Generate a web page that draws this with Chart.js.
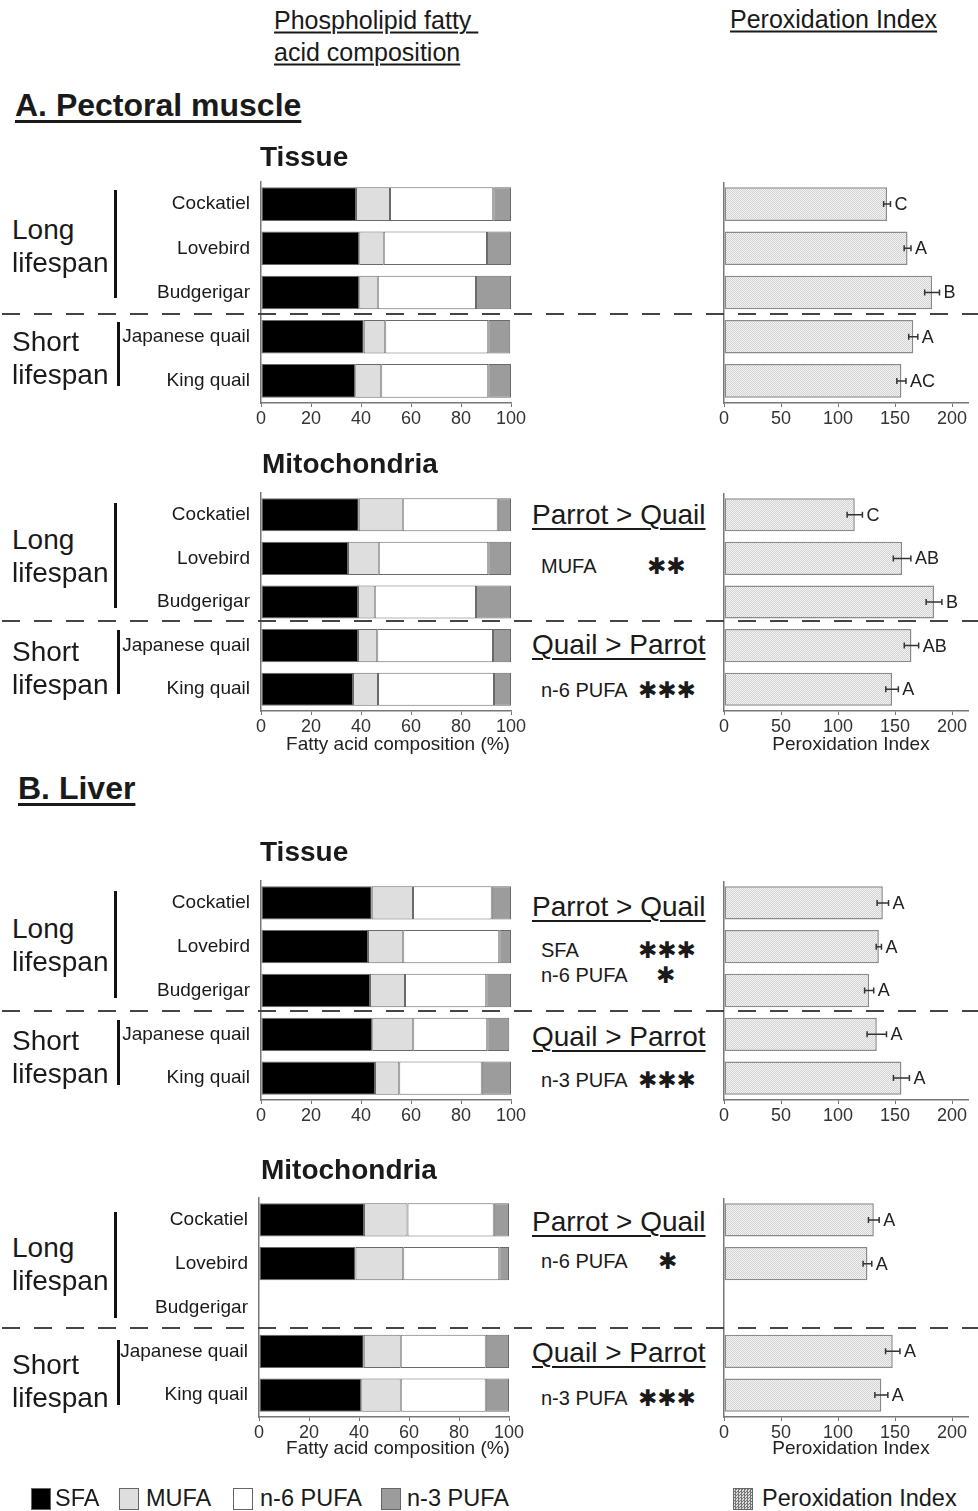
<!DOCTYPE html>
<html>
<head>
<meta charset="utf-8">
<script src="https://cdn.jsdelivr.net/npm/chart.js@4"></script>
<style>
  body { margin: 0; background: #fff; }
  #page { position: relative; width: 978px; height: 1511px; overflow: hidden;
          font-family: "Liberation Sans", Arial, sans-serif; color: #1a1a1a; }
  #page canvas { position: absolute; }
  .t { position: absolute; white-space: pre; line-height: 1; transform: translateY(-50%); }
  .c { transform: translate(-50%, -50%); }
  .hd { font-size: 25px; text-decoration: underline; text-decoration-thickness: 2px; text-underline-offset: 3px; }
  .sec { font-size: 32px; font-weight: bold; text-decoration: underline; text-decoration-thickness: 3px; text-underline-offset: 4px; }
  .sub { font-size: 28px; font-weight: bold; }
  .life { font-size: 28px; }
  .cmp { font-size: 28px; text-decoration: underline; text-decoration-thickness: 2px; text-underline-offset: 4px; }
  .fa { font-size: 20px; }
  .star { font-family: "DejaVu Sans", sans-serif; font-size: 23px; font-weight: bold; }
  .ax { font-size: 19px; color: #222; }
  .lg { font-size: 23.5px; }
  .vbar { position: absolute; width: 3px; background: #111; }
  .dash { position: absolute; left: 2px; width: 976px; height: 2px;
          background: repeating-linear-gradient(to right, #444 0 18px, transparent 18px 32px); }
  .box { position: absolute; width: 20px; height: 22px; box-sizing: border-box; border: 1px solid #666; }
</style>
</head>
<body>
<div id="page"></div>
<script>
// bird species (same order in every panel)
const species = ["Cockatiel", "Lovebird", "Budgerigar", "Japanese quail", "King quail"];
const fattyAcids = ["SFA", "MUFA", "n-6 PUFA", "n-3 PUFA"];

// A. Pectoral muscle - tissue (%)
const muscleTissueSFA  = [38.0, 39.3, 39.3, 41.1, 37.7];
const muscleTissueMUFA = [13.6, 9.8, 7.4, 8.6, 10.4];
const muscleTissueN6   = [41.3, 41.3, 39.3, 41.2, 42.8];
const muscleTissueN3   = [7.1, 9.6, 14.0, 8.8, 9.1];
// A. Pectoral muscle - mitochondria (%)
const muscleMitoSFA  = [39.1, 34.8, 38.8, 38.8, 36.8];
const muscleMitoMUFA = [17.6, 12.3, 6.7, 7.7, 10.0];
const muscleMitoN6   = [38.0, 43.8, 40.5, 46.3, 46.4];
const muscleMitoN3   = [5.3, 9.1, 14.0, 7.2, 6.8];
// B. Liver - tissue (%)
const liverTissueSFA  = [44.3, 42.8, 43.6, 44.5, 45.6];
const liverTissueMUFA = [16.5, 14.1, 14.0, 16.4, 9.7];
const liverTissueN6   = [31.5, 38.4, 32.5, 29.6, 33.0];
const liverTissueN3   = [7.7, 4.7, 9.9, 8.8, 11.7];
// B. Liver - mitochondria (%), no budgerigar data
const liverMitoSFA  = [42.0, 38.6, null, 41.9, 40.9];
const liverMitoMUFA = [17.4, 19.1, null, 14.8, 15.8];
const liverMitoN6   = [34.5, 38.4, null, 34.0, 34.0];
const liverMitoN3   = [6.1, 3.9, null, 9.3, 9.3];

// Peroxidation index, error and significance letters
const muscleTissuePI = [143, 161, 182.5, 166, 155.6];
const muscleTissueErr = [3, 3, 6.5, 4, 4];
const muscleTissueLetters = ["C", "A", "B", "A", "AC"];
const muscleMitoPI = [114.7, 156.2, 184.2, 164.4, 147.4];
const muscleMitoErr = [6.7, 7.7, 6.9, 6.3, 5.5];
const muscleMitoLetters = ["C", "AB", "B", "AB", "A"];
const liverTissuePI = [139.3, 135.8, 127.3, 134, 155.6];
const liverTissueErr = [5, 2.3, 4, 8.5, 7];
const liverTissueLetters = ["A", "A", "A", "A", "A"];
const liverMitoPI = [131.4, 125.8, null, 148, 138];
const liverMitoErr = [4.7, 3.8, null, 6.3, 5.7];
const liverMitoLetters = ["A", "A", "", "A", "A"];

const compTicks = [0, 20, 40, 60, 80, 100];
const piTicks = [0, 50, 100, 150, 200];

const page = document.getElementById("page");
const FONT = '"Liberation Sans", Arial, sans-serif';

function addCanvas(left, top, w, h) {
    const c = document.createElement("canvas");
    c.width = w; c.height = h;
    c.style.left = left + "px"; c.style.top = top + "px";
    c.style.width = w + "px"; c.style.height = h + "px";
    page.appendChild(c);
    return c;
}

// light crosshatch fill for the peroxidation bars
function hatch(dark, light) {
    const c = document.createElement("canvas");
    c.width = 2; c.height = 2;
    const g = c.getContext("2d");
    g.fillStyle = light; g.fillRect(0, 0, 2, 2);
    g.fillStyle = dark; g.fillRect(0, 0, 1, 1); g.fillRect(1, 1, 1, 1);
    return g.createPattern(c, "repeat");
}

// draws SE bars and the letters next to each peroxidation bar
const errorBars = {
    id: "errorBars",
    afterDatasetsDraw(chart, args, opts) {
        const ctx = chart.ctx;
        const x = chart.scales.x;
        const values = chart.data.datasets[0].data;
        ctx.save();
        chart.getDatasetMeta(0).data.forEach((bar, i) => {
            if (values[i] == null) return;
            const x0 = x.getPixelForValue(values[i] - opts.err[i]);
            const x1 = x.getPixelForValue(values[i] + opts.err[i]);
            const y = bar.y;
            ctx.strokeStyle = "#333";
            ctx.lineWidth = 1.5;
            ctx.beginPath();
            ctx.moveTo(x0, y); ctx.lineTo(x1, y);
            ctx.moveTo(x0, y - 3); ctx.lineTo(x0, y + 3);
            ctx.moveTo(x1, y - 3); ctx.lineTo(x1, y + 3);
            ctx.stroke();
            ctx.fillStyle = "#222";
            ctx.font = "18px " + FONT;
            ctx.textBaseline = "middle";
            ctx.fillText(opts.letters[i], x1 + 4, y + 1);
        });
        ctx.restore();
    }
};

function compChart(left, areaTop, areaH, right, sfa, mufa, n6, n3) {
    // padT leaves room for the y label overhang so the plot area starts at areaTop
    const yw = 171, xh = 26, padR = 20, padT = 26;
    const canvas = addCanvas(left - yw, areaTop - padT, right - left + yw + padR, areaH + xh + padT);
    const fills = ["#000000", "#dedede", "#ffffff", "#9c9c9c"];
    new Chart(canvas, {
        type: "bar",
        data: {
            labels: species,
            datasets: [sfa, mufa, n6, n3].map((d, i) => ({
                label: fattyAcids[i],
                data: d,
                backgroundColor: fills[i],
                borderColor: "#6a6a6a",
                borderWidth: 1,
                borderSkipped: false,
                barPercentage: 0.76,
                categoryPercentage: 1
            }))
        },
        options: {
            indexAxis: "y",
            responsive: false,
            animation: false,
            layout: { padding: { top: padT, bottom: 0, left: 0, right: padR } },
            plugins: { legend: { display: false }, tooltip: { enabled: false } },
            scales: {
                x: {
                    stacked: true, min: 0, max: 100,
                    afterBuildTicks: s => { s.ticks = compTicks.map(v => ({ value: v })); },
                    afterFit: s => { s.height = xh; },
                    grid: { drawOnChartArea: false, tickLength: 4, color: "#777" },
                    border: { color: "#777", width: 1.5 },
                    ticks: { font: { size: 18, family: FONT }, color: "#333", padding: 1 }
                },
                y: {
                    stacked: true,
                    afterFit: s => { s.width = yw; },
                    grid: { drawOnChartArea: false, drawTicks: false },
                    border: { color: "#777", width: 1.5 },
                    ticks: { font: { size: 19, family: FONT }, color: "#1a1a1a", padding: 11 }
                }
            }
        }
    });
}

function piChart(areaTop, areaH, values, err, letters) {
    const left = 724, pad = 10, xh = 26, max = 214, w = 244;
    const canvas = addCanvas(left - pad, areaTop, w + 2 * pad, areaH + xh);
    const chart = new Chart(canvas, {
        type: "bar",
        data: {
            labels: species,
            datasets: [{
                label: "Peroxidation Index",
                data: values,
                backgroundColor: "#e6e6e6",
                borderColor: "#8a8a8a",
                borderWidth: 1.5,
                borderSkipped: false,
                barPercentage: 0.76,
                categoryPercentage: 1
            }]
        },
        options: {
            indexAxis: "y",
            responsive: false,
            animation: false,
            layout: { padding: { top: 0, bottom: 0, left: pad, right: pad } },
            plugins: {
                legend: { display: false }, tooltip: { enabled: false },
                errorBars: { err: err, letters: letters }
            },
            scales: {
                x: {
                    min: 0, max: max,
                    afterBuildTicks: s => { s.ticks = piTicks.map(v => ({ value: v })); },
                    afterFit: s => { s.height = xh; },
                    grid: { drawOnChartArea: false, tickLength: 4, color: "#777" },
                    border: { color: "#777", width: 1.5 },
                    ticks: { font: { size: 18, family: FONT }, color: "#333", padding: 1 }
                },
                y: {
                    afterFit: s => { s.width = 0; },
                    grid: { drawOnChartArea: false, drawTicks: false },
                    border: { color: "#777", width: 1.5 },
                    ticks: { display: false }
                }
            }
        },
        plugins: [errorBars]
    });
    chart.data.datasets[0].backgroundColor = hatch("#d2d2d2", "#f3f3f3");
    chart.update();
}

// charts: composition (left) and peroxidation index (right)
compChart(261, 182, 221, 511, muscleTissueSFA, muscleTissueMUFA, muscleTissueN6, muscleTissueN3);
piChart(182, 221, muscleTissuePI, muscleTissueErr, muscleTissueLetters);
compChart(261, 493, 218, 511, muscleMitoSFA, muscleMitoMUFA, muscleMitoN6, muscleMitoN3);
piChart(493, 218, muscleMitoPI, muscleMitoErr, muscleMitoLetters);
compChart(261, 881, 219, 511, liverTissueSFA, liverTissueMUFA, liverTissueN6, liverTissueN3);
piChart(881, 219, liverTissuePI, liverTissueErr, liverTissueLetters);
compChart(259, 1198, 219, 509, liverMitoSFA, liverMitoMUFA, liverMitoN6, liverMitoN3);
piChart(1198, 219, liverMitoPI, liverMitoErr, liverMitoLetters);

// text
function txt(x, y, s, cls) {
    const d = document.createElement("div");
    d.className = "t " + cls;
    d.style.left = x + "px"; d.style.top = y + "px";
    d.textContent = s;
    page.appendChild(d);
}
txt(274, 20, "Phospholipid fatty ", "hd");
txt(274, 52, "acid composition", "hd");
txt(730, 19, "Peroxidation Index", "hd");
txt(15, 105, "A. Pectoral muscle", "sec");
txt(260, 157, "Tissue", "sub");
txt(262, 464, "Mitochondria", "sub");
txt(18, 788, "B. Liver", "sec");
txt(260, 852, "Tissue", "sub");
txt(261, 1170, "Mitochondria", "sub");

// lifespan group labels, brackets and separators
const groupRows = [
    { long: 230, short: 342, lb: [190, 298], sb: [322, 386], dash: 314 },
    { long: 540, short: 652, lb: [503, 608], sb: [630, 694], dash: 621 },
    { long: 929, short: 1041, lb: [891, 998], sb: [1020, 1085], dash: 1011 },
    { long: 1248, short: 1365, lb: [1212, 1318], sb: [1340, 1405], dash: 1328 }
];
groupRows.forEach(g => {
    txt(12, g.long, "Long", "life");
    txt(12, g.long + 33, "lifespan", "life");
    txt(12, g.short, "Short", "life");
    txt(12, g.short + 33, "lifespan", "life");
    [[114, g.lb], [117, g.sb]].forEach(([x, r]) => {
        const b = document.createElement("div");
        b.className = "vbar";
        b.style.left = x + "px"; b.style.top = r[0] + "px"; b.style.height = (r[1] - r[0]) + "px";
        page.appendChild(b);
    });
    const d = document.createElement("div");
    d.className = "dash";
    d.style.top = (g.dash - 1) + "px";
    page.appendChild(d);
});

// statistical comparison notes
txt(532, 515, "Parrot > Quail", "cmp");
txt(541, 566, "MUFA", "fa");
txt(647, 566, "\u2731\u2731", "star");
txt(532, 645, "Quail > Parrot", "cmp");
txt(541, 690, "n-6 PUFA", "fa");
txt(638, 690, "\u2731\u2731\u2731", "star");

txt(532, 907, "Parrot > Quail", "cmp");
txt(541, 950, "SFA", "fa");
txt(638, 950, "\u2731\u2731\u2731", "star");
txt(541, 975, "n-6 PUFA", "fa");
txt(656, 975, "\u2731", "star");
txt(532, 1037, "Quail > Parrot", "cmp");
txt(541, 1080, "n-3 PUFA", "fa");
txt(638, 1080, "\u2731\u2731\u2731", "star");

txt(532, 1222, "Parrot > Quail", "cmp");
txt(541, 1261, "n-6 PUFA", "fa");
txt(658, 1261, "\u2731", "star");
txt(532, 1353, "Quail > Parrot", "cmp");
txt(541, 1398, "n-3 PUFA", "fa");
txt(638, 1398, "\u2731\u2731\u2731", "star");

// axis titles
[743, 1447].forEach(y => {
    txt(398, y, "Fatty acid composition (%)", "ax c");
    txt(851, y, "Peroxidation Index", "ax c");
});

// legend
const legendBoxes = [
    { x: 31, tx: 55, text: "SFA", bg: "#000" },
    { x: 119, tx: 146, text: "MUFA", bg: "#dedede" },
    { x: 233, tx: 260, text: "n-6 PUFA", bg: "#fff" },
    { x: 381, tx: 407, text: "n-3 PUFA", bg: "#9c9c9c" },
    { x: 733, tx: 762, text: "Peroxidation Index", bg: "repeating-conic-gradient(#777 0 25%, #ddd 0 50%) 0 0 / 3px 3px" }
];
legendBoxes.forEach(l => {
    const b = document.createElement("div");
    b.className = "box";
    b.style.left = l.x + "px"; b.style.top = "1488px";
    b.style.background = l.bg;
    page.appendChild(b);
    txt(l.tx, 1499, l.text, "lg");
});
</script>
</body>
</html>
